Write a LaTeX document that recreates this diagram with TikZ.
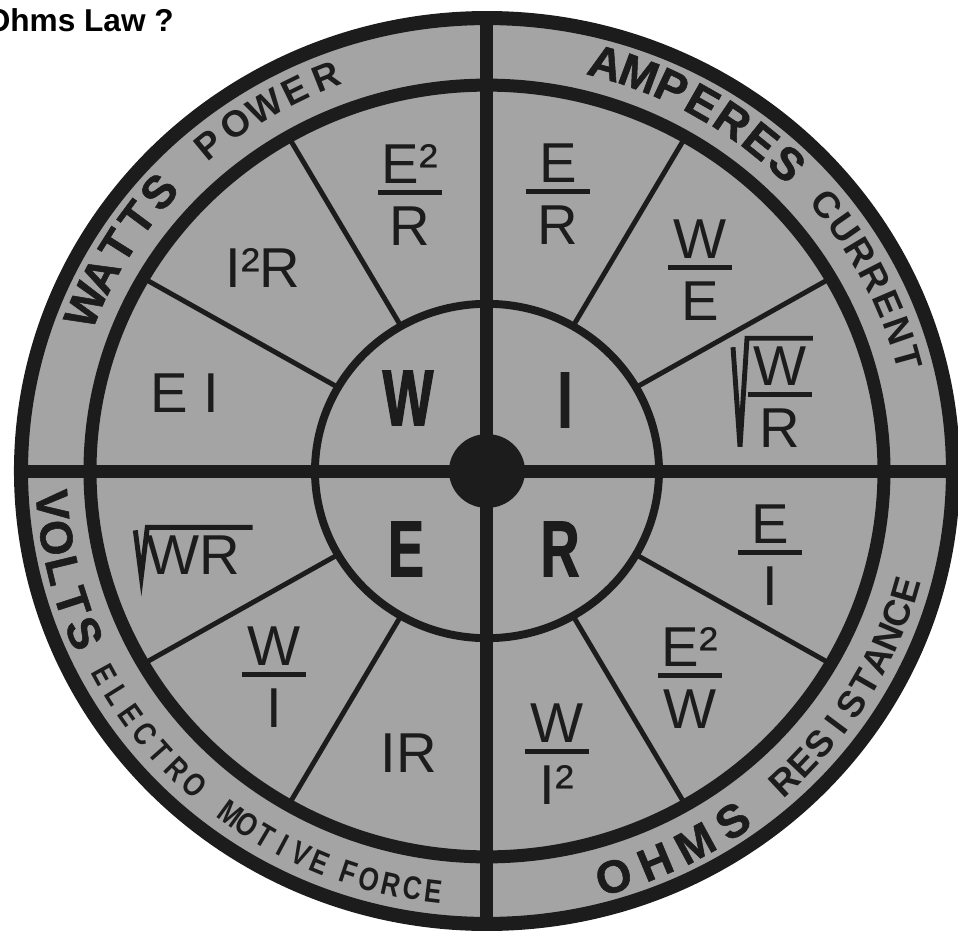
\documentclass[tikz,border=0pt]{standalone}
\usepackage{fontspec}
\setmainfont{Liberation Sans}
\newfontfamily\heavyfont[FakeStretch=0.68,FakeBold=1.5]{Liberation Sans}
\newfontfamily\ringheavy[FakeBold=1.2]{Liberation Sans}
\newfontfamily\ringnarrow[FakeStretch=0.8]{Liberation Sans}
\usetikzlibrary{calc}
\usepackage{xcolor}
\definecolor{disc}{RGB}{164,164,164}
\definecolor{ink}{RGB}{28,28,28}
\newcommand{\ofrac}[2]{#1\\[-27.2pt]\rule{36pt}{2.8pt}\\[-5.4pt]#2}
\newcommand{\ringbf}{\ringheavy\bfseries\fontsize{26}{26}\selectfont}
\newcommand{\ringmd}{\bfseries\fontsize{21}{21}\selectfont}
\newcommand{\ringsm}{\ringnarrow\bfseries\fontsize{18.5}{18.5}\selectfont}

\begin{document}
\begin{tikzpicture}[x=0.02cm,y=0.02cm]
\useasboundingbox (-487,-463) rectangle (471,471);
\tikzstyle{spoke}=[draw=ink, line width=2.8pt]
\tikzstyle{bigline}=[draw=ink, line width=7.4pt]
\tikzstyle{formula}=[inner sep=0pt, align=center, text=ink, font=\fontsize{32}{34}\selectfont]
\tikzstyle{letter}=[inner sep=0pt, text=ink, font=\heavyfont\bfseries\fontsize{45}{45}\selectfont]
\tikzstyle{rootsign}=[draw=ink, line width=2.8pt]
\tikzstyle{ringchar}=[inner sep=0pt, text=ink]

\node[anchor=base east, font=\bfseries\fontsize{18}{20}\selectfont] (title) at (-307,439) {Ohms Law ?};

\begin{scope}[yscale=0.972]
\fill[disc] (0,0) circle (466);
\foreach \a in {30,60,120,150,210,240,300,330}
  \draw[spoke] (\a:172) -- (\a:397);
\draw[bigline] (180:466) -- (0:466);
\draw[bigline] (90:466) -- (270:466);
\draw[draw=ink, line width=8pt] (0,0) circle (466);
\draw[bigline] (0,0) circle (397);
\draw[draw=ink, line width=4.5pt] (0,0) circle (172);
\fill[ink] (0,0) circle (38);
% ring lettering: first and last letter angle, tops out on top half, in below
\foreach \tag/\word/\n/\a/\b/\turn/\fnt in {
    watts/{W,A,T,T,S}/5/157/138.8/-90/\ringbf,
    power/{P,O,W,E,R}/5/129.6/111.6/-90/\ringmd,
    amperes/{A,M,P,E,R,E,S}/7/74.2/46.5/-90/\ringbf,
    current/{C,U,R,R,E,N,T}/7/38.9/15.4/-90/\ringmd,
    volts/{V,O,L,T,S}/5/184.6/202.5/90/\ringbf,
    electro/{E,L,E,C,T,R,O}/7/208.8/227.9/90/\ringsm,
    motive/{M,O,T,I,V,E}/6/234/247.4/90/\ringsm,
    force/{F,O,R,C,E}/5/251.5/263/90/\ringsm,
    ohms/{O,H,M,S}/4/286.9/304.3/90/\ringbf,
    resistance/{R,E,S,I,S,T,A,N,C,E}/10/313/343.7/90/\ringmd}
  \foreach \ch [count=\k] in \word
    \node[ringchar, font=\fnt, rotate={\a+(\k-1)*(\b-\a)/(\n-1)+\turn}] (\tag-\k) at ({\a+(\k-1)*(\b-\a)/(\n-1)}:436) {\ch};
\end{scope}

\node[letter] (W) at (-79,73) {W};
\node[letter] (I) at (78,71) {I};
\node[letter] (E) at (-81,-78) {E};
\node[letter] (R) at (73,-78) {R};

\node[formula] (e2r) at (-77,276) {\ofrac{E²}{R}};
\node[formula] (i2r) at (-224,203) {I²R};
\node[formula] (ei) at (-302,78) {E I};
\node[formula] (er) at (71,277) {\ofrac{E}{R}};
\node[formula] (we) at (213,201) {\ofrac{W}{E}};
\node[formula] (wr) at (293,74) {\ofrac{W}{R}};
\node[formula] (sqwr) at (-293.5,-84) {WR};
\node[formula] (wi) at (-213,-206) {\ofrac{W}{I}};
\node[formula] (ir) at (-78,-282) {IR};
\node[formula] (eoi) at (283,-84) {\ofrac{E}{I}};
\node[formula] (e2w) at (203,-207) {\ofrac{E²}{W}};
\node[formula] (wi2) at (70,-283) {\ofrac{W}{I²}};

\draw[rootsign] ($(wr.north west)+(-15,-1)$) -- ($(wr.south west)+(-8,1)$) -- ($(wr.north west)+(-1,8)$) -- ($(wr.north east)+(1,8)$);
\draw[rootsign] ($(sqwr.north west)+(-11,5)$) -- ($(sqwr.south west)+(-5,-2)$) -- ($(sqwr.north west)+(1,8)$) -- ($(sqwr.north east)+(12,8)$);
\end{tikzpicture}
\end{document}
